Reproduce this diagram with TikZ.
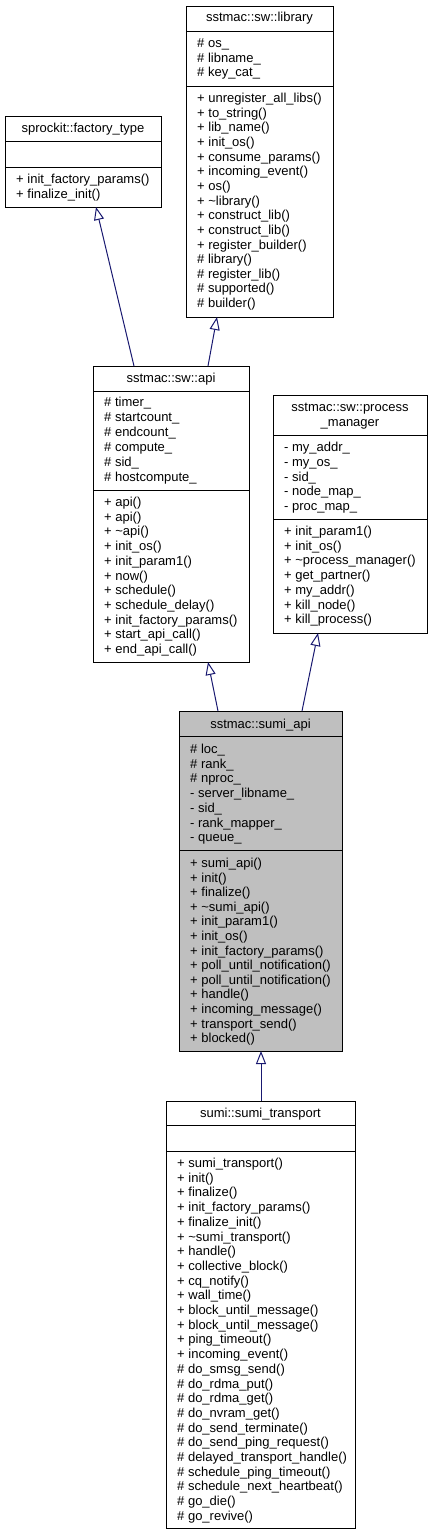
\documentclass[tikz,border=0pt]{standalone}
\usepackage{fontspec}
\setmainfont{Liberation Sans}
\usetikzlibrary{arrows.meta}
\definecolor{edgeblue}{HTML}{191970}
\definecolor{hlgray}{HTML}{BFBFBF}
\tikzset{
  classbox/.style={draw=black, line width=1pt, inner sep=0pt, outer sep=0pt, anchor=north west},
  divider/.style={draw=black, line width=1pt},
  txt/.style={anchor=base west, inner sep=0pt, font=\fontsize{13}{15}\selectfont},
  ttl/.style={anchor=base, inner sep=0pt, font=\fontsize{13}{15}\selectfont},
  inh/.style={draw=edgeblue, line width=1pt, -{Triangle[open,length=13pt,width=10pt]}}
}
\newcommand\clsbox[6]{% name, x1, y1, x2, y2, fill
  \node[classbox, fill=#6, minimum width={(#4)-(#2)}, minimum height={(#5)-(#3)}] (#1) at (#2,#3) {};}
\newcommand\txtlines[5]{% prefix, x, first baseline, step, list
  \foreach \t [count=\i from 0] in {#5} {\node[txt] (#1\i) at (#2,{#3+\i*#4}) {\t};}}
\begin{document}
\begin{tikzpicture}[x=1pt,y=-1pt]
\useasboundingbox (0,0) rectangle (432,1535);

% sprockit::factory_type
\clsbox{fac}{5}{116}{161}{207}{white}
\draw[divider] (5,141) -- (161,141);
\draw[divider] (5,167) -- (161,167);
\node[ttl] (facT) at (83,132.5) {sprockit::factory\_type};
\txtlines{facM}{16}{183.5}{14.7}{+ init\_factory\_params(),+ finalize\_init()}

% sstmac::sw::library
\clsbox{lib}{186}{6}{333}{317}{white}
\draw[divider] (186,31) -- (333,31);
\draw[divider] (186,86) -- (333,86);
\node[ttl] (libT) at (259.5,21.5) {sstmac::sw::library};
\txtlines{libA}{197}{47.5}{14.7}{\# os\_,\# libname\_,\# key\_cat\_}
\txtlines{libM}{197}{102.5}{14.65}{+ unregister\_all\_libs(),+ to\_string(),+ lib\_name(),+ init\_os(),+ consume\_params(),+ incoming\_event(),+ os(),+ \textasciitilde library(),+ construct\_lib(),+ construct\_lib(),+ register\_builder(),\# library(),\# register\_lib(),\# supported(),\# builder()}

% sstmac::sw::api
\clsbox{api}{93}{366}{249}{662}{white}
\draw[divider] (93,391) -- (249,391);
\draw[divider] (93,490) -- (249,490);
\node[ttl] (apiT) at (171,382.5) {sstmac::sw::api};
\txtlines{apiA}{104}{406.5}{15}{\# timer\_,\# startcount\_,\# endcount\_,\# compute\_,\# sid\_,\# hostcompute\_}
\txtlines{apiM}{104}{506.5}{14.7}{+ api(),+ api(),+ \textasciitilde api(),+ init\_os(),+ init\_param1(),+ now(),+ schedule(),+ schedule\_delay(),+ init\_factory\_params(),+ start\_api\_call(),+ end\_api\_call()}

% sstmac::sw::process_manager
\clsbox{pm}{273}{395}{427}{633}{white}
\draw[divider] (273,435) -- (427,435);
\draw[divider] (273,519) -- (427,519);
\node[ttl] (pmT1) at (350,411.5) {sstmac::sw::process};
\node[ttl] (pmT2) at (350,426.5) {\_manager};
\txtlines{pmA}{284}{451.5}{14.75}{- my\_addr\_,- my\_os\_,- sid\_,- node\_map\_,- proc\_map\_}
\txtlines{pmM}{284}{535.5}{14.7}{+ init\_param1(),+ init\_os(),+ \textasciitilde process\_manager(),+ get\_partner(),+ my\_addr(),+ kill\_node(),+ kill\_process()}

% sstmac::sumi_api
\clsbox{sumi}{179}{711}{342}{1051}{hlgray}
\draw[divider] (179,736) -- (342,736);
\draw[divider] (179,850) -- (342,850);
\node[ttl] (sumiT) at (260.5,728.5) {sstmac::sumi\_api};
\txtlines{sumiA}{190}{753.5}{14.7}{\# loc\_,\# rank\_,\# nproc\_,- server\_libname\_,- sid\_,- rank\_mapper\_,- queue\_}
\txtlines{sumiM}{190}{867.5}{14.6}{+ sumi\_api(),+ init(),+ finalize(),+ \textasciitilde sumi\_api(),+ init\_param1(),+ init\_os(),+ init\_factory\_params(),+ poll\_until\_notification(),+ poll\_until\_notification(),+ handle(),+ incoming\_message(),+ transport\_send(),+ blocked()}

% sumi::sumi_transport
\clsbox{tr}{166}{1101}{355}{1528}{white}
\draw[divider] (166,1125) -- (355,1125);
\draw[divider] (166,1151) -- (355,1151);
\node[ttl] (trT) at (260.5,1117.5) {sumi::sumi\_transport};
\txtlines{trM}{177}{1167.5}{14.7}{+ sumi\_transport(),+ init(),+ finalize(),+ init\_factory\_params(),+ finalize\_init(),+ \textasciitilde sumi\_transport(),+ handle(),+ collective\_block(),+ cq\_notify(),+ wall\_time(),+ block\_until\_message(),+ block\_until\_message(),+ ping\_timeout(),+ incoming\_event(),\# do\_smsg\_send(),\# do\_rdma\_put(),\# do\_rdma\_get(),\# do\_nvram\_get(),\# do\_send\_terminate(),\# do\_send\_ping\_request(),\# delayed\_transport\_handle(),\# schedule\_ping\_timeout(),\# schedule\_next\_heartbeat(),\# go\_die(),\# go\_revive()}

% connector end points on box borders
\coordinate (apiTopL) at (134,366);
\coordinate (apiTopR) at (208,366);
\coordinate (facBot) at (96,207);
\coordinate (libBot) at (217,317);
\coordinate (sumiTopL) at (218,711);
\coordinate (sumiTopR) at (302,711);
\coordinate (apiBot) at (208,662);
\coordinate (pmBot) at (318,633);
\coordinate (trTop) at (261,1101);
\coordinate (sumiBot) at (261,1051);

\draw[inh] (apiTopL) -- (facBot);
\draw[inh] (apiTopR) -- (libBot);
\draw[inh] (sumiTopL) -- (apiBot);
\draw[inh] (sumiTopR) -- (pmBot);
\draw[inh] (trTop) -- (sumiBot);
\end{tikzpicture}
\end{document}
